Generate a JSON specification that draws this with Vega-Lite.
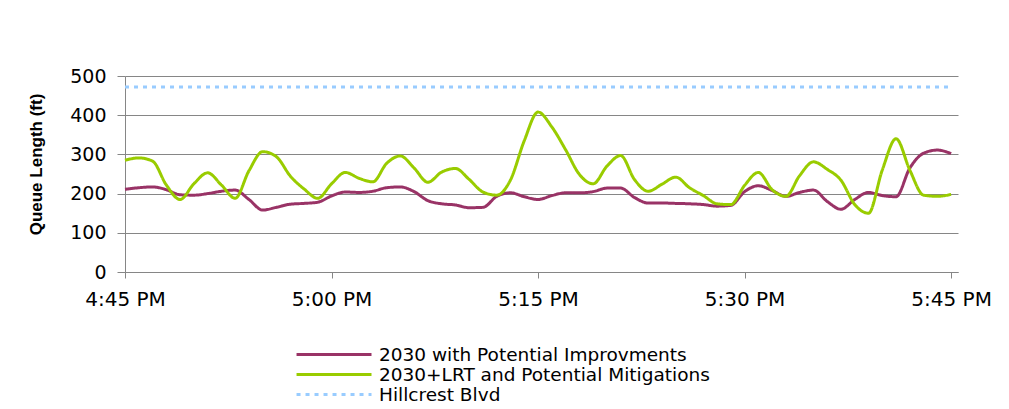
{
  "$schema": "https://vega.github.io/schema/vega-lite/v6.json",
  "width": 833,
  "height": 196,
  "autosize": "none",
  "padding": {"left": 125, "top": 76, "right": 51, "bottom": 137},
  "background": "white",
  "config": {
    "view": {"stroke": null},
    "legend": {
      "orient": "none",
      "legendX": 231.5,
      "legendY": 268,
      "symbolType": "M-7.83,0H0.5",
      "symbolSize": 324,
      "labelFont": "DejaVu Sans",
      "labelFontSize": 18.5,
      "labelColor": "#000000",
      "labelLimit": 700,
      "labelOffset": 1.5,
      "rowPadding": -1
    }
  },
  "data": {
    "values": [
      {"m": 0, "A": 211, "B": 285, "H": 472},
      {"m": 1, "A": 215, "B": 291, "H": 472},
      {"m": 2, "A": 217, "B": 283, "H": 472},
      {"m": 3, "A": 210, "B": 222, "H": 472},
      {"m": 4, "A": 197, "B": 185, "H": 472},
      {"m": 5, "A": 196, "B": 225, "H": 472},
      {"m": 6, "A": 200, "B": 253, "H": 472},
      {"m": 7, "A": 206, "B": 222, "H": 472},
      {"m": 8, "A": 209, "B": 188, "H": 472},
      {"m": 9, "A": 185, "B": 258, "H": 472},
      {"m": 10, "A": 158, "B": 307, "H": 472},
      {"m": 11, "A": 165, "B": 294, "H": 472},
      {"m": 12, "A": 173, "B": 245, "H": 472},
      {"m": 13, "A": 175, "B": 212, "H": 472},
      {"m": 14, "A": 178, "B": 188, "H": 472},
      {"m": 15, "A": 194, "B": 225, "H": 472},
      {"m": 16, "A": 204, "B": 254, "H": 472},
      {"m": 17, "A": 203, "B": 239, "H": 472},
      {"m": 18, "A": 206, "B": 230, "H": 472},
      {"m": 19, "A": 215, "B": 277, "H": 472},
      {"m": 20, "A": 217, "B": 296, "H": 472},
      {"m": 21, "A": 205, "B": 265, "H": 472},
      {"m": 22, "A": 182, "B": 229, "H": 472},
      {"m": 23, "A": 174, "B": 255, "H": 472},
      {"m": 24, "A": 171, "B": 264, "H": 472},
      {"m": 25, "A": 164, "B": 236, "H": 472},
      {"m": 26, "A": 165, "B": 204, "H": 472},
      {"m": 27, "A": 193, "B": 196, "H": 472},
      {"m": 28, "A": 202, "B": 235, "H": 472},
      {"m": 29, "A": 192, "B": 335, "H": 472},
      {"m": 30, "A": 185, "B": 408, "H": 472},
      {"m": 31, "A": 195, "B": 370, "H": 472},
      {"m": 32, "A": 202, "B": 312, "H": 472},
      {"m": 33, "A": 202, "B": 249, "H": 472},
      {"m": 34, "A": 205, "B": 225, "H": 472},
      {"m": 35, "A": 214, "B": 270, "H": 472},
      {"m": 36, "A": 214, "B": 297, "H": 472},
      {"m": 37, "A": 190, "B": 236, "H": 472},
      {"m": 38, "A": 176, "B": 206, "H": 472},
      {"m": 39, "A": 176, "B": 224, "H": 472},
      {"m": 40, "A": 175, "B": 242, "H": 472},
      {"m": 41, "A": 174, "B": 215, "H": 472},
      {"m": 42, "A": 172, "B": 195, "H": 472},
      {"m": 43, "A": 168, "B": 174, "H": 472},
      {"m": 44, "A": 170, "B": 172, "H": 472},
      {"m": 45, "A": 205, "B": 221, "H": 472},
      {"m": 46, "A": 220, "B": 254, "H": 472},
      {"m": 47, "A": 208, "B": 210, "H": 472},
      {"m": 48, "A": 193, "B": 193, "H": 472},
      {"m": 49, "A": 203, "B": 246, "H": 472},
      {"m": 50, "A": 209, "B": 281, "H": 472},
      {"m": 51, "A": 180, "B": 262, "H": 472},
      {"m": 52, "A": 160, "B": 234, "H": 472},
      {"m": 53, "A": 185, "B": 172, "H": 472},
      {"m": 54, "A": 203, "B": 150, "H": 472},
      {"m": 55, "A": 195, "B": 260, "H": 472},
      {"m": 56, "A": 192, "B": 340, "H": 472},
      {"m": 57, "A": 265, "B": 260, "H": 472},
      {"m": 58, "A": 303, "B": 196, "H": 472},
      {"m": 59, "A": 311, "B": 193, "H": 472},
      {"m": 60, "A": 302, "B": 198, "H": 472}
    ]
  },
  "transform": [
    {"fold": ["A", "B", "H"], "as": ["series", "v"]}
  ],
  "mark": {"type": "line", "interpolate": "monotone"},
  "encoding": {
    "x": {
      "field": "m",
      "type": "quantitative",
      "scale": {"domain": [0, 60.5], "nice": false},
      "axis": {
        "title": null,
        "values": [0, 15, 30, 45, 60],
        "labelExpr": "datum.value == 0 ? '4:45 PM' : datum.value == 15 ? '5:00 PM' : datum.value == 30 ? '5:15 PM' : datum.value == 45 ? '5:30 PM' : '5:45 PM'",
        "grid": false,
        "domainColor": "#868686",
        "tickColor": "#868686",
        "tickSize": 6,
        "labelFontSize": 20,
        "labelFont": "DejaVu Sans",
        "labelColor": "#000000",
        "labelPadding": 11,
        "labelFlush": false
      }
    },
    "y": {
      "field": "v",
      "type": "quantitative",
      "scale": {"domain": [0, 500], "nice": false},
      "axis": {
        "title": "Queue Length (ft)",
        "values": [0, 100, 200, 300, 400, 500],
        "gridColor": "#868686",
        "domainColor": "#868686",
        "tickColor": "#868686",
        "tickSize": 8,
        "labelPadding": 11,
        "labelFontSize": 19,
        "labelFont": "DejaVu Sans",
        "labelColor": "#000000",
        "titleFont": "Liberation Sans",
        "titleFontWeight": "bold",
        "titleFontSize": 17,
        "titleColor": "#000000",
        "titleX": -80,
        "titleY": 88
      }
    },
    "color": {
      "field": "series",
      "type": "nominal",
      "scale": {
        "domain": ["A", "B", "H"],
        "range": ["#993366", "#99CC00", "#99CCFF"]
      },
      "legend": {
        "title": null,
        "labelExpr": "datum.value == 'A' ? '2030 with Potential Improvments' : datum.value == 'B' ? '2030+LRT and Potential Mitigations' : 'Hillcrest Blvd'"
      }
    },
    "strokeDash": {
      "field": "series",
      "type": "nominal",
      "scale": {
        "domain": ["A", "B", "H"],
        "range": [[1, 0], [1, 0], [4, 5]]
      },
      "legend": {
        "title": null,
        "labelExpr": "datum.value == 'A' ? '2030 with Potential Improvments' : datum.value == 'B' ? '2030+LRT and Potential Mitigations' : 'Hillcrest Blvd'"
      }
    },
    "strokeWidth": {
      "field": "series",
      "type": "nominal",
      "scale": {
        "domain": ["A", "B", "H"],
        "range": [3, 3, 1.5]
      },
      "legend": {
        "title": null,
        "labelExpr": "datum.value == 'A' ? '2030 with Potential Improvments' : datum.value == 'B' ? '2030+LRT and Potential Mitigations' : 'Hillcrest Blvd'"
      }
    }
  }
}
